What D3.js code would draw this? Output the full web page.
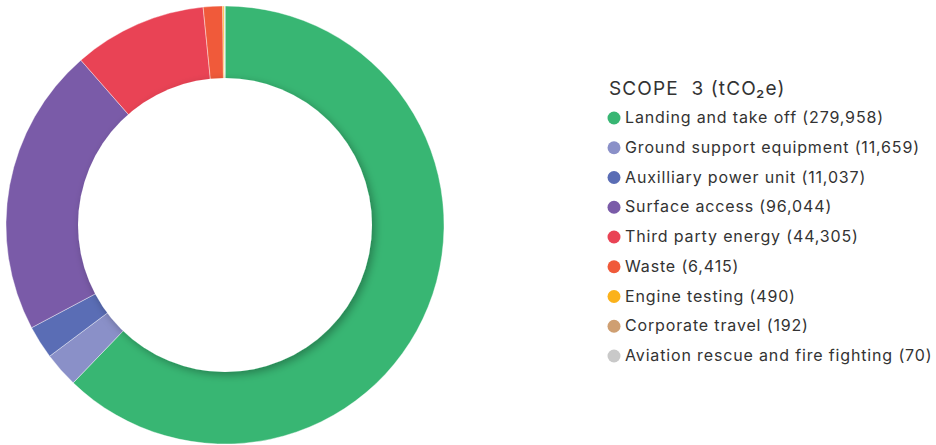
<!DOCTYPE html>
<html><head><meta charset="utf-8">
<script src="https://cdn.jsdelivr.net/npm/d3@7"></script>
<style>body{margin:0;background:#fff}svg{display:block}</style>
</head><body>
<svg id="c" width="936" height="445"></svg>
<script>
const categories = ["Landing and take off","Ground support equipment","Auxilliary power unit","Surface access","Third party energy","Waste","Engine testing","Corporate travel","Aviation rescue and fire fighting"];
const values = [279958,11659,11037,96044,44305,6415,490,192,70];
const colors = ["#38b673","#8a90c8","#5a6db5","#7a5ba8","#e94355","#f05a3a","#fbb21b","#cf9f72","#c9c9c9"];
const title = "SCOPE\u00a0\u00a03 (tCO\u2082e)";

const svg = d3.select("#c");
const defs = svg.append("defs");
const f = defs.append("filter").attr("id","sh").attr("x","-20%").attr("y","-20%").attr("width","140%").attr("height","140%");
f.append("feDropShadow").attr("dx",3).attr("dy",3).attr("stdDeviation",4).attr("flood-color","#000").attr("flood-opacity",0.3);

const cx=225, cy=225, R=219, r=147;
const g = svg.append("g").attr("transform",`translate(${cx},${cy})`);
const data = categories.map((c,i)=>({c, v:values[i], col:colors[i]}));
const pie = d3.pie().value(d=>d.v).sort(null);
const arc = d3.arc().innerRadius(r-10).outerRadius(R);
g.selectAll("path").data(pie(data)).join("path")
  .attr("d",arc).attr("fill",d=>d.data.col)
  .attr("stroke","#fff").attr("stroke-width",0.4);
g.append("circle").attr("r",r).attr("fill","#fff").attr("filter","url(#sh)");

const fmt = d3.format(",");
const lg = svg.append("g").attr("font-family","Inter, 'Noto Sans', sans-serif").attr("fill","#333");
lg.append("text").attr("x",609).attr("y",95).attr("font-size",19).attr("letter-spacing",1.1).text(title);
const rowY = d3.scalePoint().domain(categories).range([117,355]);
categories.forEach((c,i)=>{
  const y = rowY(c);
  lg.append("circle").attr("cx",614).attr("cy",y+1).attr("r",6.5).attr("fill",colors[i]);
  lg.append("text").attr("x",625).attr("y",y+6).attr("font-size",16).attr("letter-spacing",0.85).text(`${c} (${fmt(values[i])})`);
});
</script>
</body></html>
